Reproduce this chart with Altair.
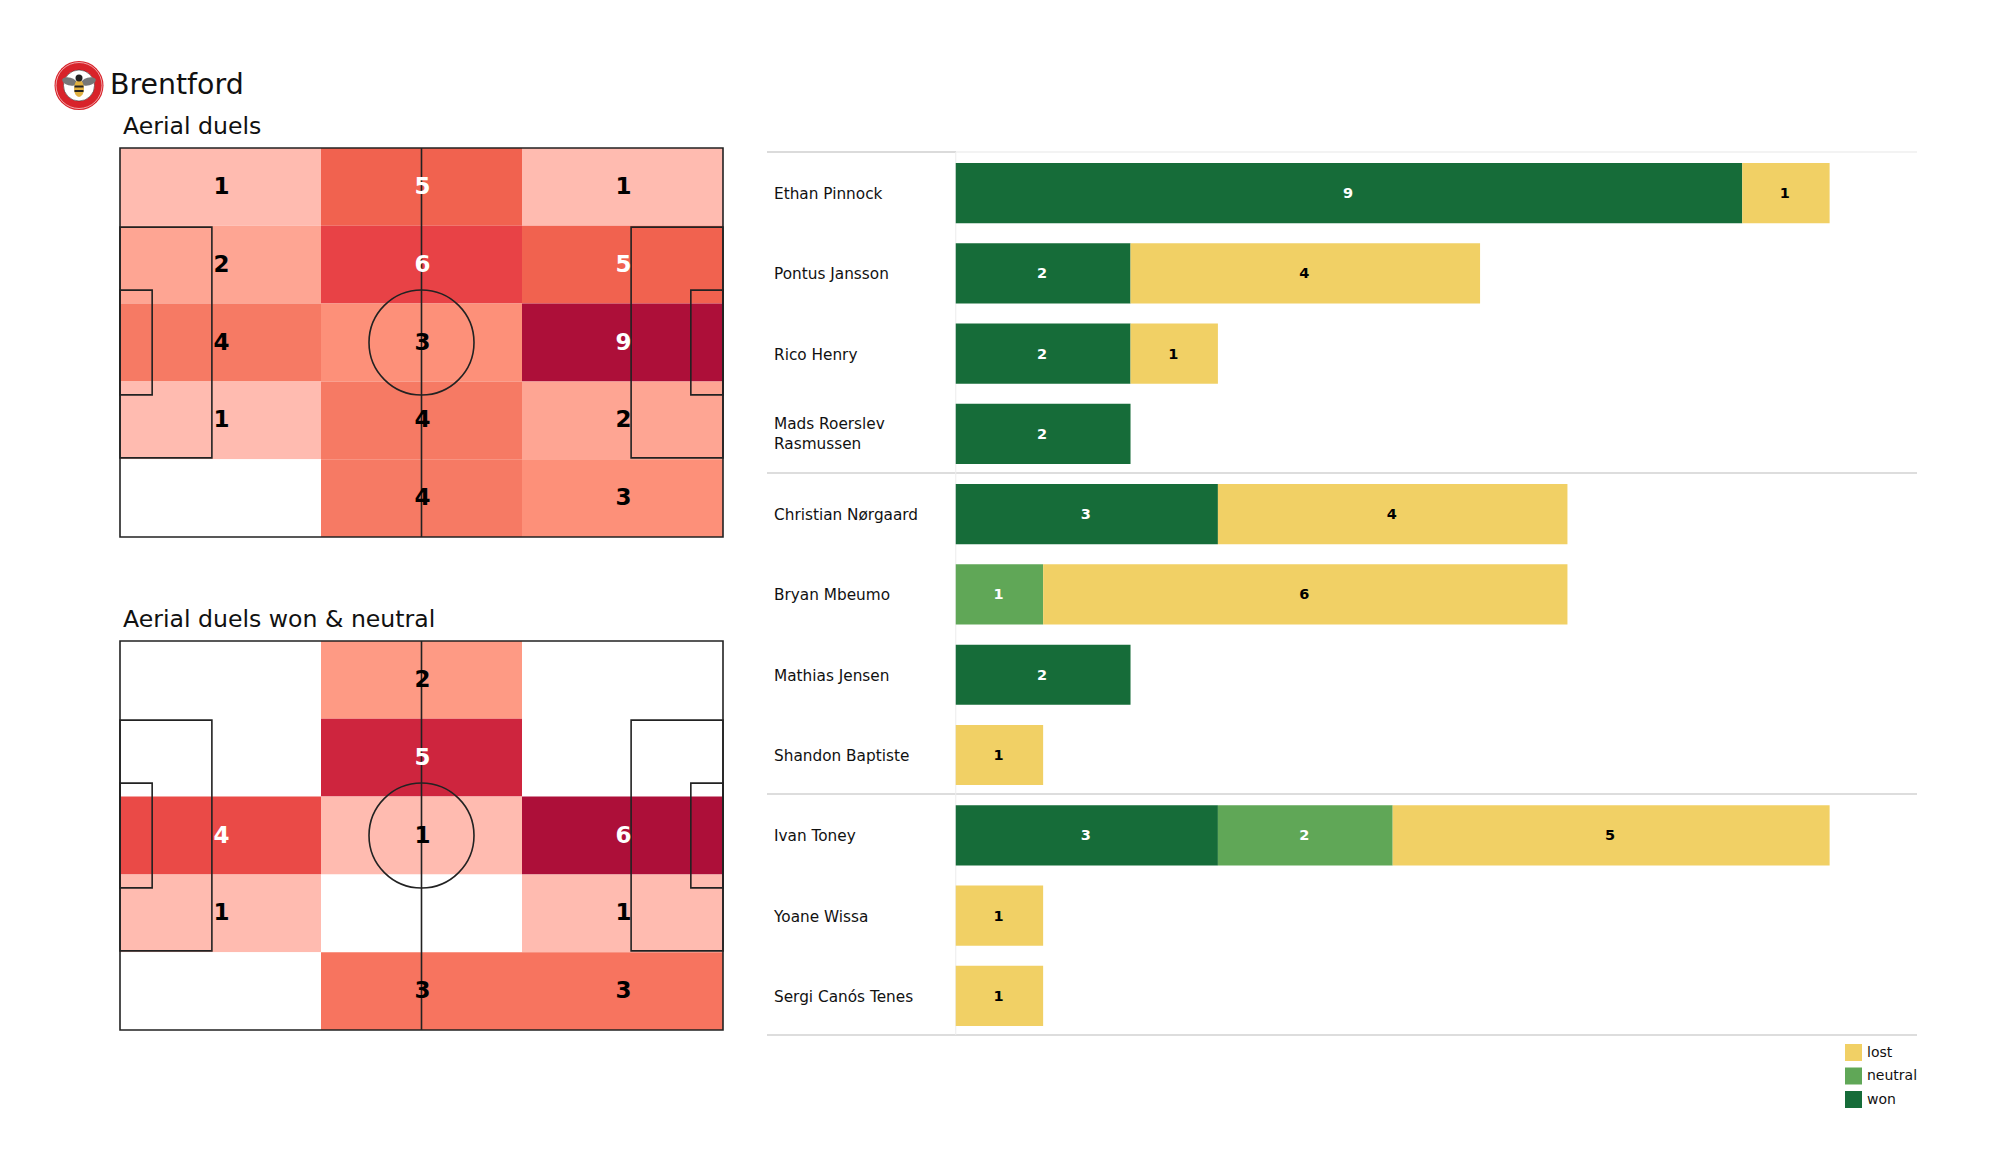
import altair as alt
import pandas as pd

FONT = "DejaVu Sans"
LINE = "#222222"

# ---------- data ----------
aerial = [[1, 5, 1], [2, 6, 5], [4, 3, 9], [1, 4, 2], [0, 4, 3]]
aerial_won = [[0, 2, 0], [0, 5, 0], [4, 1, 6], [1, 0, 1], [0, 3, 3]]

aerial_colors = {0: "#ffffff", 1: "#ffbbb0", 2: "#fea593", 3: "#fd9079", 4: "#f67a64",
                 5: "#f1624f", 6: "#e84246", 9: "#ad0f39"}
won_colors = {0: "#ffffff", 1: "#ffbbb0", 2: "#fe9a84", 3: "#f7745f", 4: "#ea4a47",
              5: "#ce253e", 6: "#ad0f39"}

players = ["Ethan Pinnock", "Pontus Jansson", "Rico Henry", "Mads Roerslev\nRasmussen",
           "Christian Nørgaard", "Bryan Mbeumo", "Mathias Jensen", "Shandon Baptiste",
           "Ivan Toney", "Yoane Wissa", "Sergi Canós Tenes"]
won = [9, 2, 2, 2, 3, 0, 2, 0, 3, 0, 0]
neutral = [0, 0, 0, 0, 0, 1, 0, 0, 2, 0, 0]
lost = [1, 4, 1, 0, 4, 6, 0, 1, 5, 1, 1]
group_last = ["Mads Roerslev\nRasmussen", "Shandon Baptiste", "Sergi Canós Tenes"]

outcome_names = ["lost", "neutral", "won"]
outcome_colors = ["#f1d065", "#60a757", "#166c39"]

# pitch geometry, metres
PITCH_X, PITCH_Y = 105, 68
pitch_boxes = pd.DataFrame({
    "x":  [0, 0, 0, 105 - 16, 105 - 5.6],
    "x2": [105, 16, 5.6, 105, 105],
    "y":  [0, 13.84, 24.84, 13.84, 24.84],
    "y2": [68, 54.16, 43.16, 54.16, 43.16],
})


def pitch(values, colors, title, extra=None):
    rows = []
    for j, row in enumerate(values):
        for i, v in enumerate(row):
            rows.append({"x": i * PITCH_X / 3, "x2": (i + 1) * PITCH_X / 3,
                         "y": j * PITCH_Y / 5, "y2": (j + 1) * PITCH_Y / 5,
                         "cx": (i + .5) * PITCH_X / 3, "cy": (j + .5) * PITCH_Y / 5,
                         "count": v,
                         "ink": "#ffffff" if v / max(map(max, values)) >= .55 else "#000000"})
    df = pd.DataFrame(rows)
    xs = alt.Scale(domain=[0, PITCH_X])
    ys = alt.Scale(domain=[PITCH_Y, 0])
    heat = alt.Chart(df).mark_rect().encode(
        x=alt.X("x:Q", scale=xs, axis=None), x2="x2:Q",
        y=alt.Y("y:Q", scale=ys, axis=None), y2="y2:Q",
        color=alt.Color("count:O", legend=None,
                        scale=alt.Scale(domain=list(colors), range=list(colors.values()))),
    )
    boxes = alt.Chart(pitch_boxes).mark_rect(fillOpacity=0, stroke=LINE, strokeWidth=1.6).encode(
        x=alt.X("x:Q", scale=xs, axis=None), x2="x2:Q",
        y=alt.Y("y:Q", scale=ys, axis=None), y2="y2:Q",
    )
    halfway = alt.Chart(pd.DataFrame({"x": [PITCH_X / 2]})).mark_rule(color=LINE, strokeWidth=1.6).encode(
        x=alt.X("x:Q", scale=xs, axis=None))
    circle = alt.Chart(pd.DataFrame({"x": [PITCH_X / 2], "y": [PITCH_Y / 2]})).mark_point(
        size=11025, color=LINE, strokeWidth=1.6, filled=False, opacity=1).encode(
        x=alt.X("x:Q", scale=xs, axis=None), y=alt.Y("y:Q", scale=ys, axis=None))
    labels = alt.Chart(df[df["count"] > 0]).mark_text(font=FONT, fontSize=23, fontWeight="bold", dx=1).encode(
        x=alt.X("cx:Q", scale=xs, axis=None), y=alt.Y("cy:Q", scale=ys, axis=None),
        text="count:Q", color=alt.Color("ink:N", scale=None),
    )
    heading = alt.Chart(pd.DataFrame({"t": [title]})).mark_text(
        font=FONT, fontSize=23.6, align="left", baseline="middle", color="#111111").encode(
        x=alt.value(3), y=alt.value(-21.5), text="t:N")
    parts = [heat, boxes, halfway, circle, labels, heading]
    if extra:
        parts += extra
    return alt.layer(*parts).properties(width=603, height=389).resolve_scale(color="independent")


badge_svg = (
    "data:image/svg+xml;utf8,"
    "<svg xmlns='http://www.w3.org/2000/svg' viewBox='0 0 100 100'>"
    "<circle cx='50' cy='50' r='49' fill='%23d8232a'/>"
    "<circle cx='50' cy='50' r='46' fill='none' stroke='white' stroke-width='1.2'/>"
    "<circle cx='50' cy='50' r='31' fill='white' stroke='%23222' stroke-width='1'/>"
    "<ellipse cx='31' cy='42' rx='15' ry='8' fill='%23777' transform='rotate(15 31 42)'/>"
    "<ellipse cx='69' cy='42' rx='15' ry='8' fill='%23777' transform='rotate(-15 69 42)'/>"
    "<ellipse cx='50' cy='56' rx='10' ry='17' fill='%23e0b040'/>"
    "<rect x='41' y='50' width='18' height='4' fill='%23222'/>"
    "<rect x='41' y='59' width='18' height='4' fill='%23222'/>"
    "<circle cx='50' cy='35' r='7' fill='%23222'/>"
    "</svg>"
)
badge = alt.Chart(pd.DataFrame({"u": [badge_svg]})).mark_image(width=50, height=50).encode(
    x=alt.value(-41), y=alt.value(-62.5), url="u:N")
brand = alt.Chart(pd.DataFrame({"t": ["Brentford"]})).mark_text(
    font=FONT, fontSize=28.4, align="left", baseline="middle", color="#111111").encode(
    x=alt.value(-10), y=alt.value(-63), text="t:N")

p1 = pitch(aerial, aerial_colors, "Aerial duels", [badge, brand])
p2 = pitch(aerial_won, won_colors, "Aerial duels won & neutral")

# ---------- bars ----------
rows = []
for name, a, b, c in zip(players, won, neutral, lost):
    start = 0
    for outcome, v in (("won", a), ("neutral", b), ("lost", c)):
        if v:
            rows.append({"player": name, "outcome": outcome, "start": start, "end": start + v,
                         "mid": start + v / 2, "n": v,
                         "ink": "#000000" if outcome == "lost" else "#ffffff"})
            start += v
bars_df = pd.DataFrame(rows)

BW, BH = 1150, 887
xb = alt.Scale(domain=[-2.16, 11])
yb = alt.Scale(domain=players, paddingInner=.25, paddingOuter=.15, align=.623)
Y = alt.Y("player:N", scale=yb, axis=None, sort=players)

top_left = alt.Chart(pd.DataFrame({"player": players[:1]})).mark_rule(
    color="#cfcfcf", strokeWidth=1.5, yOffset=-11).encode(
    y=alt.Y("player:N", scale=yb, axis=None, sort=players, bandPosition=0),
    x=alt.value(0), x2=alt.value(189))
top_right = alt.Chart(pd.DataFrame({"player": players[:1]})).mark_rule(
    color="#e8e8e8", strokeWidth=1.2, yOffset=-11).encode(
    y=alt.Y("player:N", scale=yb, axis=None, sort=players, bandPosition=0),
    x=alt.value(189), x2=alt.value(BW))
seps = alt.Chart(pd.DataFrame({"player": group_last})).mark_rule(
    color="#d2d2d2", strokeWidth=1.5, yOffset=9).encode(
    y=alt.Y("player:N", scale=yb, axis=None, sort=players, bandPosition=1),
    x=alt.value(0), x2=alt.value(BW))
zero = alt.Chart(pd.DataFrame({"x": [0]})).mark_rule(color="#ececec", strokeWidth=1).encode(
    x=alt.X("x:Q", scale=xb, axis=None), y=alt.value(4), y2=alt.value(BH))
segs = alt.Chart(bars_df).mark_bar().encode(
    x=alt.X("start:Q", scale=xb, axis=None), x2="end:Q", y=Y,
    color=alt.Color("outcome:N",
                    scale=alt.Scale(domain=outcome_names, range=outcome_colors),
                    legend=alt.Legend(title=None, orient="none", legendX=1078, legendY=896,
                                      symbolType="square", symbolSize=289, symbolStrokeWidth=0,
                                      labelFont=FONT, labelFontSize=14, labelColor="#111111",
                                      labelOffset=5, rowPadding=6.5)),
)
counts = alt.Chart(bars_df).mark_text(font=FONT, fontSize=14.5, fontWeight="bold", dx=-1, dy=1).encode(
    x=alt.X("mid:Q", scale=xb, axis=None), y=Y, text="n:Q",
    color=alt.Color("ink:N", scale=None))

name_df = pd.DataFrame({"player": players})
one_line = name_df[~name_df["player"].str.contains("\n")]
two_line = name_df[name_df["player"].str.contains("\n")]
names = alt.Chart(one_line).mark_text(
    font=FONT, fontSize=15.3, align="left", color="#111111", dy=1).encode(
    x=alt.value(7), y=Y, text="player:N")
names2 = alt.Chart(two_line).mark_text(
    font=FONT, fontSize=15.3, align="left", lineBreak="\n", lineHeight=20, color="#111111", dy=-10).encode(
    x=alt.value(7), y=Y, text="player:N")

bars = alt.layer(top_left, top_right, seps, zero, segs, counts, names, names2).properties(
    width=BW, height=BH,
).resolve_scale(color="independent")

left = alt.vconcat(p1, p2, spacing=69).resolve_scale(color="independent")
chart = alt.hconcat(left, bars, spacing=42).resolve_scale(color="independent").properties(
    padding={"left": 46, "top": 52, "right": 0, "bottom": 0},
    background="white",
).configure_view(stroke=None)

chart.save("out.html", embed_options={"renderer": "svg", "actions": False})
